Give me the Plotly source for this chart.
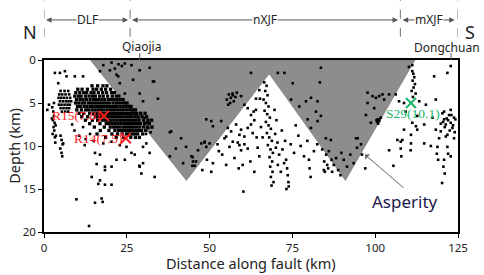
import plotly.graph_objects as go

# ---------------- data ----------------
# Asperity outline (distance along fault km, depth km)
asperity_x = [14, 43, 68, 91, 112, 14]
asperity_depth = [0, 14, 1.6, 14, 0, 0]

# Dense DLF cluster, read row by row: depth -> distances
dlf_rows = {
    3.0: [14.5, 16.2, 17.8, 19.0],
    3.4: [10.2, 11.5, 13.1, 14.8, 15.9, 17.3, 18.6, 20.1],
    3.8: [9.6, 10.8, 12.0, 12.9, 14.2, 15.1, 16.4, 17.7, 18.9, 20.4, 21.3],
    4.2: [9.3, 10.4, 11.2, 12.5, 13.6, 14.6, 15.5, 16.8, 17.9, 19.2, 20.6, 21.8, 22.6],
    4.6: [9.8, 10.9, 11.8, 12.8, 13.9, 14.9, 15.8, 16.6, 17.5, 18.4, 19.5, 20.3, 21.2, 22.1, 23.0, 23.9],
    5.0: [9.5, 10.5, 11.5, 12.3, 13.4, 14.3, 15.2, 16.1, 17.0, 17.9, 18.8, 19.7, 20.8, 21.7, 22.5, 23.4, 24.3, 25.1],
    5.4: [10.1, 11.0, 12.1, 13.0, 14.0, 14.8, 15.7, 16.5, 17.4, 18.3, 19.2, 20.1, 21.0, 21.9, 22.9, 23.8, 24.7, 25.6, 26.3],
    5.8: [9.9, 11.3, 12.6, 13.5, 14.5, 15.4, 16.3, 17.1, 18.0, 19.0, 19.9, 20.7, 21.5, 22.4, 23.3, 24.1, 25.0, 25.9, 26.8, 27.6],
    6.2: [10.6, 12.0, 13.8, 15.0, 16.0, 16.9, 17.7, 18.6, 19.5, 20.4, 21.2, 22.0, 22.8, 23.7, 24.6, 25.4, 26.2, 27.1, 28.0, 29.2, 30.5],
    6.6: [11.4, 13.2, 15.5, 16.4, 17.2, 18.1, 19.0, 19.8, 20.7, 21.6, 22.4, 23.2, 24.1, 25.0, 25.8, 26.6, 27.5, 28.4, 29.6, 31.0],
    7.0: [12.5, 14.6, 16.2, 17.6, 18.5, 19.4, 20.2, 21.1, 22.0, 22.9, 23.7, 24.5, 25.3, 26.1, 27.0, 27.8, 28.7, 30.1, 31.4, 32.5],
    7.4: [13.8, 16.9, 18.8, 19.7, 20.6, 21.5, 22.4, 23.3, 24.2, 25.0, 25.8, 26.5, 27.3, 28.2, 29.1, 30.4, 31.8],
    7.8: [15.2, 18.2, 20.0, 21.0, 21.9, 22.8, 23.8, 24.6, 25.5, 26.3, 27.1, 28.0, 28.9, 30.0, 31.2, 32.6],
    8.2: [17.0, 19.6, 21.4, 22.5, 23.4, 24.3, 25.2, 26.0, 26.9, 27.8, 28.6, 29.5, 30.7],
    8.6: [16.0, 20.5, 22.2, 23.6, 24.9, 25.8, 26.6, 27.4, 28.3, 29.8],
    9.0: [18.6, 21.8, 24.0, 26.2, 27.6, 28.8],
}

# Scattered events, DLF segment (distance, depth)
quakes_dlf = [
    (3.3, 1.5), (6.3, 1.3), (6.8, 1.9), (11.8, 1.9), (16.9, 1.3), (9.3, 1.9), (4.3, 2.7), (4.8, 1.5),
    (2.5, 5.5), (2.8, 6.0), (3.0, 6.5), (2.7, 7.0), (3.2, 7.3), (2.9, 7.8), (3.1, 8.2), (2.6, 8.6),
    (3.3, 9.0), (3.0, 5.0), (2.4, 6.8), (3.5, 7.6), (1.5, 5.2), (1.0, 5.8), (3.6, 8.8), (3.4, 9.6),
    (5.0, 3.6), (6.2, 3.6), (7.3, 3.6), (4.6, 4.0), (5.5, 4.0), (6.5, 4.0), (7.6, 4.0), (4.4, 4.4),
    (5.2, 4.4), (6.0, 4.4), (6.9, 4.4), (7.9, 4.4), (4.8, 4.8), (5.7, 4.8), (6.6, 4.8), (7.4, 4.8),
    (8.2, 4.8), (4.5, 5.2), (5.3, 5.2), (6.2, 5.2), (7.1, 5.2), (7.8, 5.2), (5.0, 5.6), (5.9, 5.6),
    (6.8, 5.6), (7.6, 5.6), (5.4, 6.0), (6.4, 6.0), (7.3, 6.0),
    (5.0, 8.8), (5.3, 9.3), (5.6, 9.8), (4.9, 10.3), (5.3, 10.8), (5.5, 11.2), (5.8, 9.7),
    (8.5, 7.5), (9.2, 8.2), (10.6, 8.8), (11.8, 7.8), (12.6, 9.2), (13.9, 8.6), (15.0, 9.4),
    (12.3, 9.9), (15.4, 10.8), (16.9, 11.0), (15.9, 12.1), (14.4, 13.6), (16.4, 14.4), (16.9, 14.0),
    (18.4, 12.4), (18.4, 12.8), (20.4, 12.4), (21.9, 11.6), (18.4, 14.5), (20.4, 14.5), (17.4, 16.1),
    (17.7, 16.5), (15.4, 16.6), (9.8, 16.2), (13.6, 19.3), (24.4, 11.6), (22.9, 9.9), (24.9, 10.1),
    (20.4, 9.5), (17.9, 9.7),
]

# Scattered events, nXJF segment
quakes_nxjf = [
    (17.9, 0.6), (19.9, 1.2), (21.9, 1.7), (21.4, 1.0), (22.9, 2.7), (26.9, 2.3), (32.9, 2.5),
    (28.9, 1.2), (26.4, 0.6), (24.4, 3.9), (28.9, 3.9), (29.9, 4.8), (34.4, 4.5), (38.4, 8.3),
    (41.4, 9.1), (42.9, 10.1), (44.9, 11.3), (45.9, 11.8), (20.4, 0.3), (22.5, 0.5), (24.4, 0.4),
    (23.5, 0.7), (22.4, 1.9), (31.9, 0.9), (33.2, 2.5),
    (30.4, 6.7), (31.0, 7.3), (31.5, 7.9), (32.2, 8.4), (30.8, 8.6), (38.0, 8.4),
    (39.8, 10.3), (38.0, 11.2), (42.0, 12.0), (44.5, 11.2), (45.0, 11.8), (44.8, 12.3),
    (47.5, 9.7), (49.0, 10.1), (48.5, 9.5),
    (26.4, 10.8), (27.4, 11.0), (28.9, 12.4), (29.4, 13.2), (29.9, 12.0), (31.9, 10.8),
    (33.4, 13.6), (29.9, 10.1), (30.9, 9.7), (28.8, 12.3),
    (55.2, 4.6), (55.8, 4.0), (56.4, 4.4), (56.9, 3.9), (57.3, 4.8), (57.8, 4.3), (55.6, 5.2),
    (56.2, 5.0), (57.0, 4.1), (58.2, 3.8), (62.5, 1.5), (59.5, 4.2), (49.0, 6.9), (50.5, 7.1),
    (51.0, 7.7), (53.5, 7.1), (50.0, 9.7),
    (46.5, 10.5), (47.8, 12.8), (49.2, 11.6), (50.5, 13.0), (51.0, 12.0), (52.4, 9.8), (53.8, 11.0),
    (55.0, 12.2), (56.0, 10.1), (57.5, 11.4), (58.8, 12.6), (59.0, 9.9), (59.5, 10.5), (60.0, 12.2),
    (60.2, 15.3), (61.5, 10.3), (62.3, 11.8), (63.5, 13.0), (64.2, 9.0), (65.0, 11.2), (54.5, 9.1),
    (55.5, 7.9), (56.5, 8.3), (57.0, 9.5), (58.0, 7.5), (58.5, 9.6), (59.5, 8.1), (59.0, 8.7),
    (60.5, 8.9), (60.5, 9.8), (61.5, 7.9), (62.5, 7.5), (55.0, 8.9), (60.5, 5.2), (61.5, 5.6),
    (62.5, 6.4), (63.5, 7.0), (64.0, 5.8), (65.2, 4.5), (63.0, 8.5), (64.5, 10.2), (65.5, 7.8),
    (66.0, 9.0), (52.8, 10.6), (48.5, 9.6), (45.5, 12.3),
    (66.5, 2.6), (67.2, 3.0), (66.8, 3.6), (67.5, 4.1), (66.3, 4.6), (67.0, 5.0), (67.8, 5.4),
    (66.6, 5.9), (67.4, 6.3), (68.2, 6.7), (67.0, 7.2), (67.8, 7.6), (68.5, 8.0), (67.3, 8.5),
    (68.0, 9.0), (68.8, 9.4), (67.6, 9.9), (68.4, 10.4), (69.1, 10.8), (68.1, 11.3), (68.9, 11.8),
    (68.3, 12.4), (69.0, 13.0), (68.5, 13.6), (69.3, 14.2), (68.7, 14.6), (69.6, 5.8), (70.2, 7.0),
    (69.8, 8.6), (70.5, 9.6), (70.0, 10.2), (71.0, 11.0), (70.6, 12.2), (71.5, 13.0), (72.0, 10.4),
    (72.5, 12.0), (73.1, 11.6), (73.4, 12.6), (73.6, 13.4), (73.8, 14.2), (73.2, 15.0), (73.9, 14.7),
    (72.8, 9.4), (71.8, 8.2), (74.5, 9.8), (75.5, 10.8), (76.0, 7.6), (76.8, 8.8), (77.5, 10.0),
    (78.5, 11.2), (79.5, 9.4), (80.0, 11.6), (80.2, 12.6), (80.5, 13.6), (81.5, 10.6), (82.5, 9.8),
    (84.6, 11.8), (84.8, 13.0), (85.5, 12.2), (65.0, 3.5), (64.0, 4.5), (63.3, 6.0),
    (83.6, 0.9), (83.3, 2.6), (70.6, 1.5), (72.6, 1.5), (75.1, 2.7), (74.6, 4.6), (77.1, 5.4),
    (79.1, 4.8), (80.6, 4.4), (82.6, 4.8), (82.1, 6.0), (83.6, 6.5), (82.6, 7.1), (79.6, 6.9),
    (80.6, 7.9), (85.1, 9.1), (86.6, 9.3), (94.2, 9.1),
    (84.0, 10.4), (85.2, 11.0), (86.0, 10.6), (86.8, 11.6), (87.5, 12.2), (88.2, 11.4), (88.8, 12.8),
    (89.5, 13.4), (87.0, 13.0), (85.8, 12.6), (84.5, 12.8), (89.8, 10.8), (90.5, 11.6), (91.5, 12.4),
    (92.5, 11.0), (93.5, 12.0), (94.5, 10.2), (96.0, 11.0), (97.0, 12.6),
    (97.7, 3.8), (99.2, 4.2), (100.2, 4.4), (101.2, 4.2), (102.2, 4.0), (102.7, 4.6), (104.2, 4.0),
    (97.7, 5.0), (99.7, 5.6), (100.7, 6.9), (101.2, 7.1), (101.7, 6.7), (97.2, 6.4), (98.7, 7.3),
    (94.7, 9.1), (95.7, 9.8), (100.6, 7.2), (100.9, 7.4), (101.3, 6.9), (100.4, 7.0),
    (104.2, 10.5), (106.2, 4.0), (107.2, 4.8), (106.7, 9.3), (105.5, 12.3),
]

# Scattered events, mXJF segment
quakes_mxjf = [
    (108.7, 5.0), (109.2, 6.0), (113.3, 4.8), (115.3, 5.2), (117.8, 1.9), (118.3, 4.6), (121.8, 1.5),
    (122.8, 0.7), (120.3, 6.2), (120.8, 6.9), (122.3, 6.4), (121.3, 7.5), (122.8, 7.3), (123.8, 6.7),
    (123.3, 7.9), (121.8, 8.7), (119.8, 8.3), (119.3, 9.1), (123.8, 9.1), (114.8, 7.5), (112.3, 7.7),
    (108.7, 8.1), (108.2, 9.3), (110.8, 9.7), (112.7, 8.1), (116.8, 10.0), (118.3, 8.1), (117.3, 6.7),
    (112.7, 6.5), (111.2, 7.3), (110.8, 8.7),
    (111.2, 1.3), (111.5, 1.6), (111.8, 2.0), (111.3, 2.4), (112.0, 2.8), (111.6, 3.2), (111.0, 3.6),
    (112.2, 3.9), (111.4, 4.3), (110.2, 0.8), (111.2, 0.6),
    (120.5, 7.2), (121.0, 7.8), (121.6, 6.8), (122.0, 7.0), (122.5, 8.2), (123.0, 6.4), (123.5, 7.6),
    (124.0, 8.4), (121.3, 8.9), (120.8, 6.0), (122.8, 5.8), (124.2, 6.9), (119.8, 7.4),
    (107.7, 9.5), (107.7, 10.3), (107.9, 11.2), (110.7, 10.5), (114.8, 9.7), (118.8, 10.1),
    (118.6, 10.9), (119.0, 11.6), (120.8, 11.6), (120.6, 12.4), (121.0, 13.2), (120.2, 14.3),
    (121.8, 10.1), (122.0, 10.9), (122.8, 11.2),
]

# Large events
event_names = ["R15(7.8)", "R14(7.5)", "S29(10.1)"]
event_x = [18.1, 24.7, 110.8]
event_depth = [6.5, 9.1, 5.0]

# Fault segments along the top
segment_names = ["DLF", "nXJF", "mXJF"]
segment_bounds = [0, 26, 107.6, 125]
town_names = ["Qiaojia", "Dongchuan"]
town_x = [28.9, 122.9]

# ---------------- build ----------------
bx, bd = [], []
for d, xs in dlf_rows.items():
    for x in xs:
        bx.append(x)
        bd.append(d)
qx, qd = [], []
for lst in (quakes_dlf, quakes_nxjf, quakes_mxjf):
    for x, d in lst:
        qx.append(x)
        qd.append(d)

fig = go.Figure()
fig.add_trace(go.Scatter(
    x=asperity_x, y=asperity_depth, mode="lines", fill="toself",
    fillcolor="#8d8d8d", line=dict(color="#6f6f6f", width=0.6), hoverinfo="skip"))
fig.add_trace(go.Scatter(
    x=bx, y=bd, mode="markers",
    marker=dict(symbol="square", size=3.3, color="black", line=dict(width=0))))
fig.add_trace(go.Scatter(
    x=qx, y=qd, mode="markers",
    marker=dict(symbol="square", size=2.6, color="black", line=dict(width=0))))

red = "#ff1a1a"
green = "#1db36b"
colors = [red, red, green]
fig.add_trace(go.Scatter(
    x=event_x, y=event_depth, mode="markers",
    marker=dict(symbol="x-thin", size=10, line=dict(color=colors, width=2), color=colors)))

serif = "Liberation Serif, Times New Roman, serif"
label_pos = [(9.6, 6.5), (16.3, 9.1), (111.4, 6.2)]
for name, (lx, ly), c in zip(event_names, label_pos, colors):
    fig.add_annotation(x=lx, y=ly, text=name, showarrow=False, xanchor="center", yanchor="middle",
                       font=dict(family=serif, size=13.5, color=c))

sans = "Noto Sans, Open Sans, sans-serif"
# dashed boundaries above the plot
for b in segment_bounds:
    fig.add_shape(type="line", xref="x", yref="paper", x0=b, x1=b, y0=1.135, y1=1.35,
                  line=dict(color="#777777", width=1, dash="dash"))
# town ticks
for tx in town_x:
    fig.add_shape(type="line", xref="x", yref="paper", x0=tx, x1=tx, y0=1.0, y1=1.04,
                  line=dict(color="#555555", width=1))

arrow_y = 1.233
ends = [(0.6, 25.4), (26.6, 106.9), (108.3, 124.0)]
for name, (a, b) in zip(segment_names, ends):
    c = (a + b) / 2
    for e in (a, b):
        fig.add_annotation(x=e, y=arrow_y, xref="x", yref="paper", ax=c, ay=0,
                           axref="x", ayref="pixel", text="", showarrow=True,
                           arrowhead=2, arrowsize=1.1, arrowwidth=1, arrowcolor="#555555")
for name, (a, b) in zip(segment_names, ends):
    c = (a + b) / 2
    fig.add_annotation(x=c, y=arrow_y, xref="x", yref="paper", text=name, showarrow=False,
                       xanchor="center", yanchor="middle",
                       bgcolor="white", borderpad=0, font=dict(family=sans, size=12, color="#222222"))

fig.add_annotation(x=-0.034, y=1.165, xref="paper", yref="paper", text="N", showarrow=False,
                   xanchor="center", yanchor="middle",
                   font=dict(family=sans, size=18, color="#222222"))
fig.add_annotation(x=1.029, y=1.165, xref="paper", yref="paper", text="S", showarrow=False,
                   xanchor="center", yanchor="middle",
                   font=dict(family=sans, size=18, color="#222222"))
fig.add_annotation(x=29.3, y=1.077, xref="x", yref="paper", text=town_names[0], showarrow=False,
                   xanchor="center", yanchor="middle",
                   font=dict(family=sans, size=12, color="#222222"))
fig.add_annotation(x=121.8, y=1.072, xref="x", yref="paper", text=town_names[1], showarrow=False,
                   xanchor="center", yanchor="middle",
                   font=dict(family=sans, size=12, color="#222222"))

# Axis titles
fig.add_annotation(x=0.5, y=-0.182, xref="paper", yref="paper", text="Distance along fault (km)",
                   xanchor="center", yanchor="middle",
                   showarrow=False, font=dict(family=sans, size=14.5, color="#222222"))
fig.add_annotation(x=-0.073, y=0.5, xref="paper", yref="paper", text="Depth (km)", textangle=-90,
                   xanchor="center", yanchor="middle",
                   showarrow=False, font=dict(family=sans, size=14.5, color="#222222"))

# Asperity label with arrow
fig.add_annotation(x=96.9, y=11.0, ax=109.0, ay=15.0, axref="x", ayref="y", text="",
                   showarrow=True, arrowhead=1, arrowsize=1.2, arrowwidth=1, arrowcolor="#666666")
fig.add_annotation(x=109.0, y=16.4, text="Asperity", showarrow=False,
                   xanchor="center", yanchor="middle",
                   font=dict(family=sans, size=17, color="#1a1a4a"))

fig.update_layout(
    width=484, height=275, margin=dict(l=44, r=26, t=60, b=43),
    plot_bgcolor="white", paper_bgcolor="white", showlegend=False,
    font=dict(family=sans, color="#222222"),
)
fig.update_xaxes(range=[0, 125], tickvals=[0, 25, 50, 75, 100, 125], ticks="outside", ticklen=4,
                 tickcolor="black", showline=True, linecolor="black", linewidth=1.5, mirror=True,
                 showgrid=False, zeroline=False, tickfont=dict(size=11.5), automargin=False)
fig.update_yaxes(range=[20, 0], tickvals=[0, 5, 10, 15, 20], ticks="outside", ticklen=4,
                 tickcolor="black", showline=True, linecolor="black", linewidth=1.5, mirror=True,
                 showgrid=False, zeroline=False, tickfont=dict(size=11.5), automargin=False)

fig.write_html("out.html", config={"displayModeBar": False},
               post_script="document.body.style.margin='0';document.body.style.overflow='hidden';")
